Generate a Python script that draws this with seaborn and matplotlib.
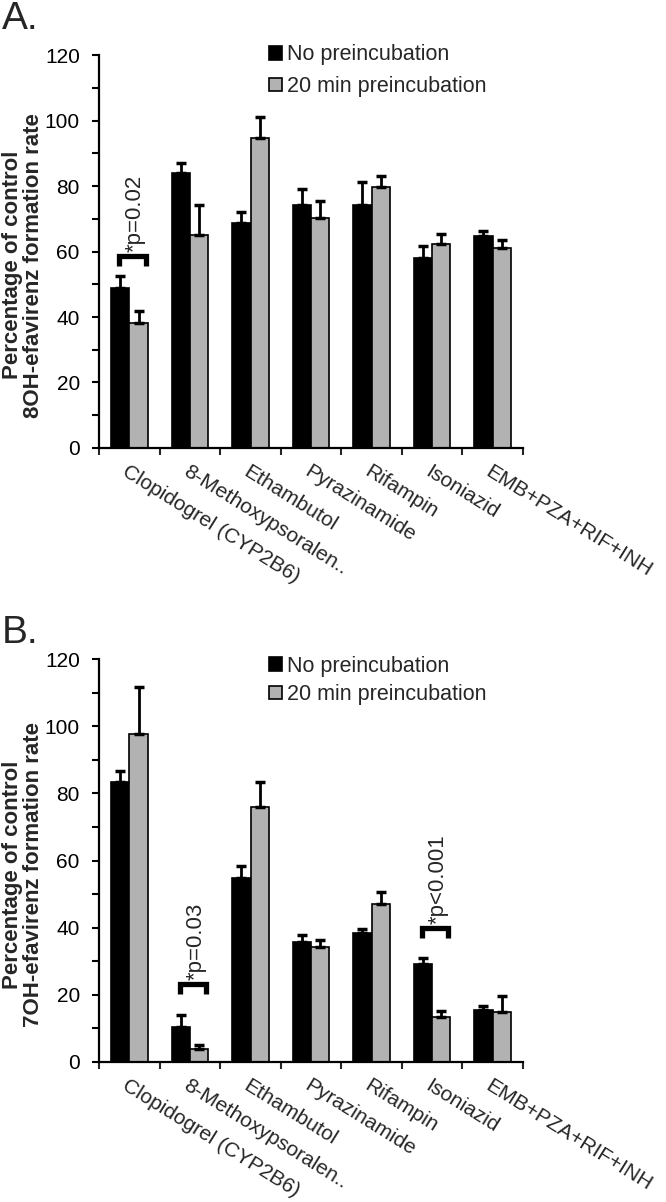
import matplotlib
matplotlib.use("Agg")
import matplotlib.pyplot as plt
import seaborn as sns
import pandas as pd
import numpy as np
from matplotlib.ticker import MultipleLocator, FixedLocator

# Drug categories and series names
drugs = ["Clopidogrel (CYP2B6)", "8-Methoxypsoralen..", "Ethambutol", "Pyrazinamide",
         "Rifampin", "Isoniazid", "EMB+PZA+RIF+INH"]
series = ["No preincubation", "20 min preincubation"]

# Panel A: 8OH-efavirenz formation (% of control)
a_nopre = [49.0, 83.9, 68.6, 74.2, 74.2, 58.1, 64.6]
a_nopre_err = [3.4, 3.1, 3.5, 5.0, 7.0, 3.7, 1.7]
a_pre = [38.1, 65.1, 94.8, 70.1, 79.6, 62.2, 61.0]
a_pre_err = [3.6, 9.1, 6.3, 5.3, 3.6, 3.3, 2.4]

# Panel B: 7OH-efavirenz formation (% of control)
b_nopre = [83.5, 10.4, 54.7, 35.7, 38.5, 29.1, 15.5]
b_nopre_err = [3.3, 3.5, 3.6, 2.1, 1.2, 2.0, 1.1]
b_pre = [97.8, 3.8, 76.0, 34.1, 47.1, 13.5, 14.9]
b_pre_err = [14.0, 1.2, 7.5, 2.1, 3.6, 1.7, 4.8]

# significance brackets: (category index, bracket height, label)
a_sig = [(0, 58.5, "*p=0.02")]
b_sig = [(1, 23.2, "*p=0.03"), (5, 39.8, "*p<0.001")]

sns.set_theme(style="ticks")
plt.rcParams["font.family"] = ["Liberation Sans", "DejaVu Sans"]

fig = plt.figure(figsize=(6.66, 12.02), dpi=100)
ax_a = fig.add_axes([0.149, 0.6273, 0.636, 0.3269])
ax_b = fig.add_axes([0.149, 0.1165, 0.636, 0.3352])


def draw_panel(ax, nopre, nopre_err, pre, pre_err, sigs, ylabel, leg_anchor,
               leg_spacing):
    df = pd.DataFrame({
        "drug": drugs * 2,
        "value": nopre + pre,
        "series": [series[0]] * len(drugs) + [series[1]] * len(drugs),
    })
    sns.barplot(data=df, x="drug", y="value", hue="series", order=drugs,
                hue_order=series, palette=["black", "#b2b2b2"], width=0.6,
                edgecolor="black", linewidth=1.2, errorbar=None, ax=ax,
                saturation=1)
    # one-sided (plus) error bars
    for cont, errs in zip(ax.containers, [nopre_err, pre_err]):
        xs = [p.get_x() + p.get_width() / 2 for p in cont.patches]
        ys = [p.get_height() for p in cont.patches]
        ax.errorbar(xs, ys, yerr=[np.zeros(len(errs)), errs], fmt="none",
                    ecolor="black", elinewidth=2, capsize=3.5, capthick=2.5,
                    zorder=1)

    # significance brackets
    for idx, h, txt in sigs:
        x0, x1 = idx - 0.17, idx + 0.27
        ax.plot([x0, x0, x1, x1], [h - 3, h, h, h - 3], color="black",
                lw=3.8, solid_capstyle="butt", solid_joinstyle="miter")
        ax.text(idx + 0.1, h + 1.3, txt, rotation=90, ha="center",
                va="bottom", fontsize=16)

    ax.set_ylim(0, 120)
    ax.set_xlim(-0.5, len(drugs) - 0.5)
    ax.yaxis.set_major_locator(MultipleLocator(20))
    ax.yaxis.set_minor_locator(MultipleLocator(10))
    ax.tick_params(axis="y", which="both", direction="out", length=5,
                   width=1.5, labelsize=15, pad=9, colors="black")
    ax.xaxis.set_minor_locator(FixedLocator(np.arange(-0.5, len(drugs), 1.0)))
    ax.tick_params(axis="x", which="major", length=0, pad=10)
    ax.tick_params(axis="x", which="minor", direction="out", length=5,
                   width=1.5)
    ax.set_xticks(range(len(drugs)))
    ax.set_xticklabels(drugs, rotation=-32, ha="left", va="top",
                       rotation_mode="anchor", fontsize=15)
    ax.set_xlabel("")
    ax.set_ylabel(ylabel, fontsize=16, fontweight="bold", linespacing=1.0)
    ax.yaxis.set_label_coords(-0.13, 0.465)
    sns.despine(ax=ax)
    for s in ["left", "bottom"]:
        ax.spines[s].set_linewidth(1.6)
        ax.spines[s].set_color("black")

    handles, labels = ax.get_legend_handles_labels()
    ax.legend(handles, labels, loc="upper left", bbox_to_anchor=leg_anchor,
              frameon=False, fontsize=15.5, handlelength=0.6,
              handleheight=0.6, handletextpad=0.25, labelspacing=leg_spacing,
              borderpad=0, borderaxespad=0)


draw_panel(ax_a, a_nopre, a_nopre_err, a_pre, a_pre_err, a_sig,
           "Percentage of control\n8OH-efavirenz formation rate",
           (0.40, 1.027), 0.5)
draw_panel(ax_b, b_nopre, b_nopre_err, b_pre, b_pre_err, b_sig,
           "Percentage of control\n7OH-efavirenz formation rate",
           (0.40, 1.008), 0.33)

fig.text(0.003, 0.999, "A.", fontsize=28, va="top", ha="left")
fig.text(0.003, 0.488, "B.", fontsize=28, va="top", ha="left")

fig.savefig("out.png", dpi=100, facecolor="white")
